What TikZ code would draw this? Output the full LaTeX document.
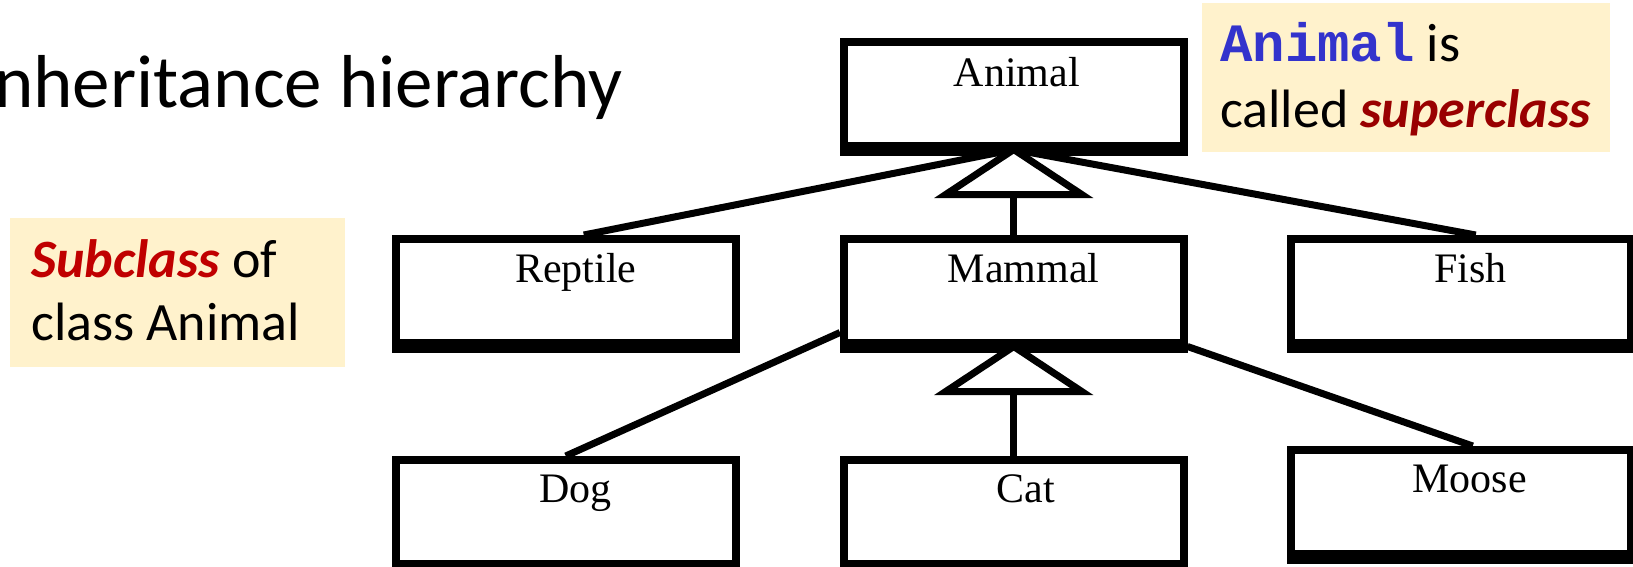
\documentclass[tikz,border=0pt]{standalone}
\usepackage{fontspec}
\setmainfont{Liberation Serif}
\newfontfamily\slidefont{Carlito}
\newfontfamily\codefont{Liberation Mono}
\definecolor{notebg}{HTML}{FFF2CC}
\definecolor{codeblue}{HTML}{3333CC}
\definecolor{superred}{HTML}{990000}
\definecolor{subred}{HTML}{C00000}

\begin{document}
\begin{tikzpicture}[x=1pt,y=-1pt]
	\tikzset{
		classbox/.style={draw, line width=7.5, minimum width=340, minimum height=104, inner sep=0pt, anchor=north west},
		cname/.style={font=\fontsize{42}{50}\selectfont, anchor=base, inner sep=0pt},
		link/.style={line width=7},
		notebox/.style={fill=notebg, inner sep=0pt, anchor=north west},
		notetext/.style={font=\slidefont\fontsize{54}{66}\selectfont, anchor=base west, inner sep=0pt}
	}
	\useasboundingbox (0,0) rectangle (1633,566);
	% title, runs off the left edge
	\node[font=\slidefont\fontsize{75}{90}\selectfont, anchor=base west, inner sep=0pt] (title) at (-6,107) {nheritance hierarchy};
	% notes
	\node[notebox, minimum width=408, minimum height=149] (supernote) at (1202,3) {};
	\node[notetext] (super1) at (1220,61) {\textcolor{codeblue}{\codefont\bfseries Animal} is};
	\node[notetext] (super2) at (1220,127) {called \textcolor{superred}{\bfseries\itshape superclass}};
	\node[notebox, minimum width=335, minimum height=149] (subnote) at (10,218) {};
	\node[notetext] (sub1) at (31,277) {\textcolor{subred}{\bfseries\itshape Subclass} of};
	\node[notetext] (sub2) at (31,340) {class Animal};
	% classes
	\node[classbox] (animal) at (840,38) {};
	\node[classbox] (reptile) at (392,235) {};
	\node[classbox] (mammal) at (840,235) {};
	\node[classbox] (fish) at (1287,235) {};
	\node[classbox] (dog) at (392,456) {};
	\node[classbox] (cat) at (840,456) {};
	\node[classbox] (moose) at (1287,446) {};
	\foreach \n in {animal,reptile,mammal,fish,dog,cat,moose}
		\draw[line width=10] ([yshift=-1.5]\n.south west) -- ([yshift=-1.5]\n.south east);
	\node[cname] (animal-t) at ([xshift=3,yshift=-48]animal.north) {Animal};
	\node[cname] (reptile-t) at ([xshift=10,yshift=-47]reptile.north) {Reptile};
	\node[cname] (mammal-t) at ([xshift=10,yshift=-47]mammal.north) {Mammal};
	\node[cname] (fish-t) at ([xshift=10,yshift=-47]fish.north) {Fish};
	\node[cname] (dog-t) at ([xshift=10,yshift=-46]dog.north) {Dog};
	\node[cname] (cat-t) at ([xshift=12,yshift=-46]cat.north) {Cat};
	\node[cname] (moose-t) at ([xshift=9,yshift=-46]moose.north) {Moose};
	% inheritance links
	\coordinate (animal-base) at ([yshift=-45]animal.south);
	\coordinate (mammal-base) at ([yshift=-45]mammal.south);
	\draw[link] (animal.south) -- ([xshift=18]reptile.north);
	\draw[link] (animal.south) -- ([xshift=15]fish.north);
	\draw[link] (animal-base) -- (mammal.north);
	\draw[link] ([yshift=14]mammal.south west) -- (dog.north);
	\draw[link] (mammal.south east) -- ([xshift=12]moose.north);
	\draw[link] (mammal-base) -- (cat.north);
	\draw[link, fill=white] (animal.south) -- ++(-68,45) -- ++(136,0) -- cycle;
	\draw[link, fill=white] (mammal.south) -- ++(-68,45) -- ++(136,0) -- cycle;
\end{tikzpicture}
\end{document}
